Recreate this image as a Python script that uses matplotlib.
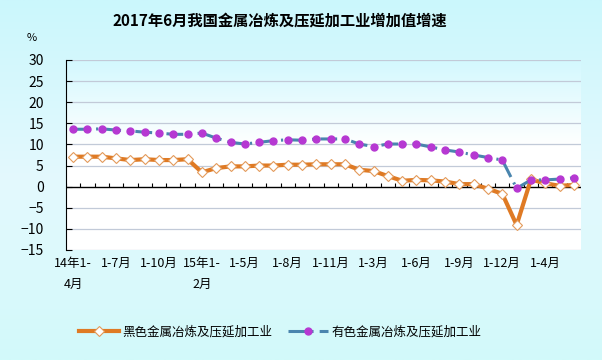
import numpy as np
import matplotlib
matplotlib.use('Agg')
import matplotlib.pyplot as plt
from matplotlib.colors import LinearSegmentedColormap

plt.rcParams['font.family'] = ['Noto Sans CJK SC', 'DejaVu Sans']

# monthly cumulative periods, Apr 2014 .. Jun 2017
periods = ['14年1-4月', '1-5月', '1-6月', '1-7月', '1-8月', '1-9月', '1-10月', '1-11月', '1-12月',
           '15年1-2月', '1-3月', '1-4月', '1-5月', '1-6月', '1-7月', '1-8月', '1-9月', '1-10月',
           '1-11月', '1-12月',
           '16年1-2月', '1-3月', '1-4月', '1-5月', '1-6月', '1-7月', '1-8月', '1-9月', '1-10月',
           '1-11月', '1-12月',
           '17年1-2月', '1-3月', '1-4月', '1-5月', '1-6月']
ferrous = [7.1, 7.1, 7.1, 6.7, 6.3, 6.5, 6.3, 6.3, 6.5,
           3.4, 4.4, 4.8, 4.8, 5.0, 5.0, 5.2, 5.2, 5.3, 5.3, 5.3,
           4.0, 3.7, 2.5, 1.4, 1.6, 1.5, 1.2, 0.6, 0.6, -0.5, -1.7,
           -9.1, 1.7, 0.8, 0.2, 0.4]
nonferrous = [13.6, 13.6, 13.7, 13.4, 13.2, 12.9, 12.7, 12.4, 12.4,
              12.7, 11.5, 10.5, 10.1, 10.5, 10.9, 11.1, 11.0, 11.3, 11.3, 11.3,
              10.1, 9.5, 10.1, 10.1, 10.1, 9.4, 8.7, 8.2, 7.5, 6.9, 6.3,
              -0.4, 1.6, 1.6, 1.8, 2.1]
tick_labels = ['14年1-\n4月', '1-7月', '1-10月', '15年1-\n2月', '1-5月', '1-8月',
               '1-11月', '1-3月', '1-6月', '1-9月', '1-12月', '1-4月']
series_names = ['黑色金属冶炼及压延加工业', '有色金属冶炼及压延加工业']

W, H = 602, 360
fig = plt.figure(figsize=(W / 100, H / 100), dpi=100)

# figure background gradient
bg = fig.add_axes([0, 0, 1, 1], zorder=-10)
bg_cmap = LinearSegmentedColormap.from_list('bg', ['#CBF7FC', '#E4F9FE', '#D2FAFA'])
bg.imshow(np.linspace(0, 1, 256).reshape(-1, 1), cmap=bg_cmap, aspect='auto',
          extent=[0, 1, 0, 1])
bg.axis('off')

ax = fig.add_axes([66 / W, 110 / H, 515 / W, 190 / H])
x = np.arange(len(periods))
ax.set_xlim(-0.5, len(periods) - 0.5)
ax.set_ylim(-15, 30)

# plot area gradient: cyan at the top fading to white
pa_cmap = LinearSegmentedColormap.from_list('pa', [(0, '#D3F8FE'), (0.45, '#FFFFFF'), (1, '#FFFFFF')])
ax.imshow(np.linspace(0, 1, 256).reshape(-1, 1), cmap=pa_cmap, aspect='auto',
          extent=[-0.5, len(periods) - 0.5, -15, 30], zorder=0)

for v in range(-15, 31, 5):
    if v != 0:
        ax.axhline(v, color='#C2CAD8', lw=0.9, zorder=1)
ax.axhline(0, color='black', lw=1, zorder=2)
ax.vlines(np.arange(len(periods) + 1) - 0.5, 0, 0.9, color='black', lw=0.8, zorder=2)

ax.plot(x, ferrous, color='#DF7A24', lw=3, marker='D', ms=5.5, mfc='white',
        mec='#E39A5A', mew=0.8, zorder=3, label=series_names[0])
ax.plot(x, nonferrous, color='#4A85AE', lw=2.2, linestyle=(0, (5.5, 2, 0.7, 2)),
        marker='o', ms=5, mfc='#B638D2', mec='#B638D2', zorder=4, label=series_names[1])

for s in ['top', 'right', 'bottom']:
    ax.spines[s].set_visible(False)
ax.spines['left'].set_color('black')
ax.set_yticks(range(-15, 31, 5))
ax.tick_params(axis='y', direction='in', length=4, pad=16, labelsize=10)
ax.set_xticks(x[::3])
ax.set_xticklabels(tick_labels, fontsize=9)
ax.tick_params(axis='x', length=0, pad=5)
for lbl in ax.get_xticklabels():
    lbl.set_linespacing(1.8)

fig.text(280 / W, 1 - 21 / H, '2017年6月我国金属冶炼及压延加工业增加值增速',
         ha='center', va='center', fontsize=11, fontweight='bold')
fig.text(32 / W, 1 - 38 / H, '%', ha='center', va='center', fontsize=8)

fig.legend(loc='center', bbox_to_anchor=(280 / W, 1 - 332 / H), ncol=2, frameon=False,
           fontsize=9, handlelength=3.2, handletextpad=0.3, columnspacing=1.2)

fig.savefig('out.png', dpi=100)
